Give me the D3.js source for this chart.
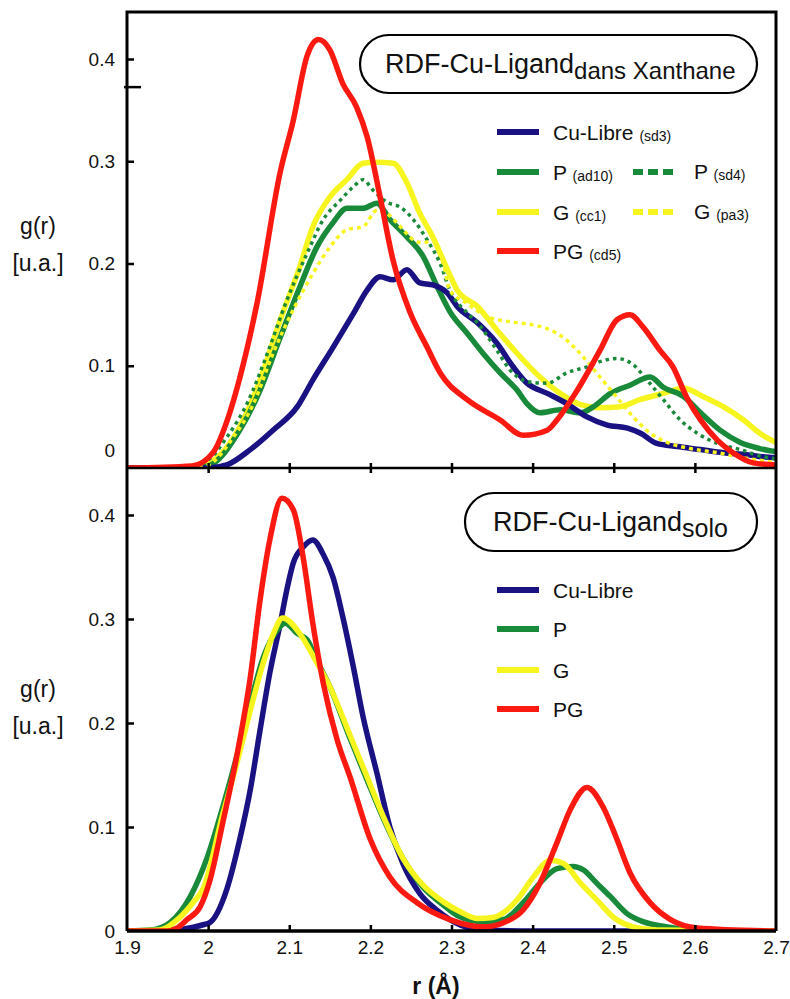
<!DOCTYPE html>
<html>
<head>
<meta charset="utf-8">
<script src="https://cdn.jsdelivr.net/npm/d3@7"></script>
<style>
  html, body { margin: 0; padding: 0; background: #fff; }
  svg { display: block; }
  text { font-family: "Liberation Sans", Arial, sans-serif; fill: #111; }
</style>
</head>
<body>
<svg id="chart" width="790" height="999"></svg>
<script>
// ---------- DATA ----------
const xTicks = [1.9, 2.0, 2.1, 2.2, 2.3, 2.4, 2.5, 2.6, 2.7];
const yTicks = [0, 0.1, 0.2, 0.3, 0.4];

// Top panel: "dans Xanthane"
const xanCuR = [1.90,2.00,2.023,2.052,2.08,2.11,2.129,2.154,2.179,2.196,2.212,2.228,2.245,2.261,2.277,2.295,2.307,2.332,2.356,2.376,2.393,2.418,2.442,2.467,2.492,2.517,2.533,2.553,2.578,2.607,2.635,2.664,2.684,2.70];
const xanCuG = [0,0,0.003,0.018,0.037,0.06,0.086,0.118,0.151,0.174,0.187,0.184,0.194,0.181,0.179,0.171,0.158,0.142,0.122,0.099,0.083,0.073,0.063,0.05,0.042,0.039,0.034,0.024,0.021,0.018,0.015,0.013,0.011,0.010];

const xanPR = [1.90,1.98,2.00,2.039,2.064,2.089,2.113,2.134,2.154,2.171,2.191,2.208,2.224,2.245,2.265,2.282,2.298,2.319,2.339,2.36,2.381,2.393,2.409,2.434,2.459,2.475,2.496,2.52,2.545,2.561,2.586,2.607,2.631,2.656,2.68,2.70];
const xanPG = [0,0,0.002,0.037,0.076,0.128,0.177,0.216,0.24,0.254,0.254,0.259,0.243,0.226,0.207,0.178,0.153,0.132,0.112,0.093,0.076,0.063,0.054,0.057,0.054,0.06,0.073,0.081,0.089,0.079,0.07,0.054,0.037,0.025,0.019,0.016];

const xanPdR = [1.90,1.97,2.0,2.023,2.048,2.073,2.097,2.122,2.142,2.163,2.179,2.191,2.203,2.22,2.237,2.253,2.27,2.286,2.298,2.319,2.332,2.356,2.372,2.397,2.418,2.442,2.467,2.483,2.504,2.524,2.541,2.561,2.582,2.603,2.628,2.656,2.684,2.70];
const xanPdG = [0,0.001,0.008,0.03,0.063,0.112,0.164,0.21,0.243,0.262,0.275,0.282,0.272,0.26,0.255,0.243,0.223,0.2,0.174,0.152,0.142,0.115,0.096,0.084,0.083,0.093,0.099,0.104,0.107,0.101,0.086,0.067,0.047,0.034,0.024,0.018,0.011,0.009];

const xanGR = [1.90,1.98,2.00,2.039,2.064,2.089,2.113,2.129,2.15,2.171,2.191,2.208,2.228,2.245,2.261,2.277,2.295,2.307,2.332,2.356,2.381,2.409,2.434,2.459,2.483,2.508,2.533,2.561,2.586,2.61,2.635,2.66,2.68,2.70];
const xanGG = [0,0,0.004,0.04,0.086,0.145,0.197,0.236,0.265,0.282,0.298,0.299,0.298,0.279,0.249,0.226,0.194,0.174,0.158,0.135,0.112,0.089,0.073,0.062,0.059,0.06,0.067,0.073,0.078,0.07,0.06,0.047,0.034,0.025];

const xanGdR = [1.90,1.98,2.0,2.031,2.056,2.08,2.105,2.129,2.15,2.171,2.191,2.208,2.22,2.237,2.253,2.265,2.277,2.29,2.298,2.319,2.344,2.372,2.40,2.422,2.442,2.462,2.483,2.504,2.524,2.545,2.566,2.594,2.628,2.66,2.693,2.70];
const xanGdG = [0,0,0.003,0.03,0.063,0.112,0.155,0.19,0.216,0.233,0.236,0.252,0.249,0.236,0.223,0.22,0.223,0.2,0.174,0.161,0.148,0.143,0.14,0.135,0.125,0.109,0.089,0.069,0.05,0.034,0.025,0.019,0.015,0.01,0.006,0.005];

const xanPGR = [1.90,1.98,2.006,2.025,2.039,2.06,2.089,2.105,2.122,2.136,2.15,2.166,2.183,2.196,2.212,2.228,2.249,2.27,2.286,2.319,2.36,2.388,2.418,2.43,2.455,2.483,2.504,2.52,2.536,2.557,2.573,2.59,2.607,2.628,2.647,2.672,2.70];
const xanPGG = [0,0.002,0.015,0.05,0.088,0.16,0.29,0.34,0.403,0.419,0.409,0.376,0.353,0.324,0.265,0.203,0.152,0.118,0.093,0.067,0.047,0.032,0.037,0.047,0.076,0.115,0.145,0.150,0.138,0.115,0.099,0.069,0.047,0.027,0.015,0.005,0.003];

// Bottom panel: "solo"
const soloCuR = [1.90,1.97,1.994,2.002,2.023,2.039,2.052,2.064,2.076,2.089,2.097,2.105,2.117,2.129,2.142,2.154,2.166,2.179,2.191,2.208,2.224,2.24,2.261,2.282,2.298,2.339,2.40,2.70];
const soloCuG = [0,0.002,0.006,0.008,0.04,0.088,0.136,0.193,0.248,0.296,0.328,0.354,0.369,0.376,0.362,0.34,0.302,0.254,0.206,0.152,0.1,0.065,0.036,0.02,0.011,0.001,0,0];

const soloPR = [1.90,1.93,1.953,1.978,1.999,2.018,2.035,2.052,2.068,2.085,2.095,2.11,2.122,2.134,2.15,2.175,2.196,2.216,2.24,2.265,2.29,2.307,2.339,2.364,2.388,2.409,2.43,2.45,2.462,2.479,2.496,2.516,2.536,2.566,2.594,2.70];
const soloPG = [0,0.001,0.008,0.033,0.071,0.119,0.167,0.219,0.263,0.289,0.296,0.286,0.28,0.26,0.235,0.185,0.145,0.108,0.07,0.042,0.025,0.015,0.009,0.011,0.027,0.046,0.06,0.062,0.059,0.046,0.033,0.017,0.009,0.004,0.001,0];

const soloGR = [1.90,1.94,1.965,1.981,1.994,2.018,2.035,2.052,2.068,2.08,2.092,2.113,2.134,2.15,2.175,2.196,2.216,2.24,2.265,2.29,2.312,2.332,2.351,2.381,2.401,2.422,2.438,2.459,2.479,2.50,2.524,2.553,2.70];
const soloGG = [0,0.001,0.013,0.027,0.041,0.112,0.16,0.212,0.258,0.285,0.301,0.286,0.258,0.235,0.188,0.148,0.11,0.07,0.044,0.028,0.018,0.012,0.013,0.03,0.052,0.068,0.065,0.046,0.03,0.013,0.004,0.001,0];

const soloPGR = [1.90,1.95,1.962,1.974,1.99,2.002,2.018,2.035,2.052,2.064,2.076,2.091,2.105,2.117,2.129,2.142,2.159,2.175,2.2,2.224,2.258,2.298,2.339,2.364,2.388,2.409,2.43,2.446,2.467,2.487,2.504,2.52,2.545,2.57,2.603,2.70];
const soloPGG = [0,0,0.003,0.011,0.023,0.048,0.104,0.167,0.244,0.318,0.376,0.416,0.405,0.36,0.296,0.238,0.184,0.148,0.088,0.052,0.027,0.011,0.004,0.008,0.02,0.046,0.085,0.116,0.138,0.119,0.088,0.056,0.027,0.011,0.003,0];

// Legend labels
const topLegendMain = ["Cu-Libre", "P", "G", "PG"];
const topLegendSub = ["(sd3)", "(ad10)", "(cc1)", "(cd5)"];
const topLegend2Main = ["P", "G"];
const topLegend2Sub = ["(sd4)", "(pa3)"];
const botLegend = ["Cu-Libre", "P", "G", "PG"];

// ---------- STYLE ----------
const NAVY = "#1a1282", GREEN = "#198a3a", YELLOW = "#f7f520", RED = "#fb1a12";

const svg = d3.select("#chart");
svg.append("rect").attr("width", 790).attr("height", 999).attr("fill", "#fff");

const L = 127, R = 776, T = 12, MID = 468, B = 931;
const x = d3.scaleLinear().domain([1.9, 2.7]).range([L, R]);
const yTop = d3.scaleLinear().domain([0, 0.4]).range([MID, 59]);
const yBot = d3.scaleLinear().domain([0, 0.4]).range([B, 515]);

const defs = svg.append("defs");
defs.append("clipPath").attr("id", "clipTop").append("rect").attr("x", L).attr("y", T).attr("width", R - L).attr("height", MID - T);
defs.append("clipPath").attr("id", "clipBot").append("rect").attr("x", L).attr("y", MID).attr("width", R - L).attr("height", B - MID);

function pts(rs, gs) { return rs.map((r, i) => [r, gs[i]]); }

function drawLine(g, y, rs, gs, color, width, dash) {
  const line = d3.line().x(d => x(d[0])).y(d => y(d[1])).curve(d3.curveMonotoneX);
  g.append("path").datum(pts(rs, gs))
    .attr("d", line).attr("fill", "none")
    .attr("stroke", color).attr("stroke-width", width)
    .attr("stroke-linejoin", "round")
    .attr("stroke-dasharray", dash || null);
}

// ---------- TOP PANEL CURVES ----------
const gTop = svg.append("g").attr("clip-path", "url(#clipTop)");
drawLine(gTop, yTop, xanGR, xanGG, YELLOW, 5.5);
drawLine(gTop, yTop, xanPR, xanPG, GREEN, 5.5);
drawLine(gTop, yTop, xanCuR, xanCuG, NAVY, 5.5);
drawLine(gTop, yTop, xanPdR, xanPdG, GREEN, 3.5, "3.5,4");
drawLine(gTop, yTop, xanGdR, xanGdG, YELLOW, 3.5, "4,4");
drawLine(gTop, yTop, xanPGR, xanPGG, RED, 5.5);

// ---------- BOTTOM PANEL CURVES ----------
const gBot = svg.append("g").attr("clip-path", "url(#clipBot)");
drawLine(gBot, yBot, soloCuR, soloCuG, NAVY, 5.5);
drawLine(gBot, yBot, soloPR, soloPG, GREEN, 5.5);
drawLine(gBot, yBot, soloGR, soloGG, YELLOW, 5.5);
drawLine(gBot, yBot, soloPGR, soloPGG, RED, 5.5);

// ---------- FRAME ----------
const frame = svg.append("g").attr("stroke", "#000").attr("fill", "none");
frame.append("path").attr("d", `M${L},${B} L${L},${T} L${R},${T} L${R},${B}`).attr("stroke-width", 3);
frame.append("line").attr("x1", L).attr("x2", R).attr("y1", MID).attr("y2", MID).attr("stroke-width", 2.5);
frame.append("line").attr("x1", L).attr("x2", R).attr("y1", B).attr("y2", B).attr("stroke-width", 3.5);

// ---------- AXES ----------
function styleAxis(sel) {
  sel.select(".domain").remove();
  sel.selectAll(".tick line").attr("stroke", "#000").attr("stroke-width", 2.5);
  sel.selectAll(".tick text").attr("font-family", "Liberation Sans, Arial, sans-serif").attr("font-size", 19).attr("fill", "#111");
}

// top y axis
const axTop = svg.append("g").attr("transform", `translate(${L},0)`)
  .call(d3.axisLeft(yTop).tickValues(yTicks).tickSizeInner(-7).tickSizeOuter(0).tickPadding(12)
    .tickFormat(d => d === 0 ? "0" : d3.format(".1f")(d)));
styleAxis(axTop);
axTop.selectAll(".tick").filter(d => d === 0).select("line").remove();
axTop.selectAll(".tick").filter(d => d === 0).select("text").attr("y", -18);
// stray long tick in the top panel
svg.append("line").attr("x1", L - 3).attr("x2", L + 14)
  .attr("y1", yTop(0.3725)).attr("y2", yTop(0.3725)).attr("stroke", "#000").attr("stroke-width", 2.5);

// bottom y axis
const axBot = svg.append("g").attr("transform", `translate(${L},0)`)
  .call(d3.axisLeft(yBot).tickValues(yTicks).tickSizeInner(-7).tickSizeOuter(0).tickPadding(12)
    .tickFormat(d => d === 0 ? "0" : d3.format(".1f")(d)));
styleAxis(axBot);
axBot.selectAll(".tick").filter(d => d === 0).select("line").remove();

// middle x axis (ticks only, crossing)
const axMid = svg.append("g").attr("transform", `translate(0,${MID})`)
  .call(d3.axisBottom(x).tickValues(xTicks.slice(1, -1)).tickSize(5).tickFormat(""));
styleAxis(axMid);
axMid.selectAll(".tick line").attr("y1", -5).attr("y2", 5);

// bottom x axis
const axX = svg.append("g").attr("transform", `translate(0,${B})`)
  .call(d3.axisBottom(x).tickValues(xTicks).tickSizeInner(-6).tickSizeOuter(0).tickPadding(10)
    .tickFormat(d => Math.abs(d - 2) < 1e-9 ? "2" : d3.format(".1f")(d)));
styleAxis(axX);
axX.selectAll(".tick").filter(d => d === 1.9 || d === 2.7).select("line").remove();

// axis titles
function yTitle(cy) {
  svg.append("text").attr("x", 38).attr("y", cy).attr("text-anchor", "middle").attr("font-size", 23).text("g(r)");
  svg.append("text").attr("x", 38).attr("y", cy + 37).attr("text-anchor", "middle").attr("font-size", 23).text("[u.a.]");
}
yTitle(234);
yTitle(697);

svg.append("text").attr("x", 436).attr("y", 994).attr("text-anchor", "middle")
  .attr("font-family", "'Liberation Sans Narrow', 'Liberation Sans', Arial, sans-serif")
  .attr("font-weight", "bold").attr("font-size", 23).text("r (Å)");

// ---------- TITLE BOXES ----------
function titleBox(x0, y0, w, h, tx, ty, main, sub, subSize) {
  svg.append("rect").attr("x", x0).attr("y", y0).attr("width", w).attr("height", h)
    .attr("rx", h / 2).attr("ry", h / 2).attr("fill", "#fff").attr("stroke", "#000").attr("stroke-width", 2.2);
  const t = svg.append("text").attr("x", tx).attr("y", ty).attr("font-size", 27);
  t.append("tspan").text(main);
  t.append("tspan").attr("font-size", subSize).attr("dy", 6).text(sub);
}
titleBox(360, 35, 397, 58, 385, 73, "RDF-Cu-Ligand", "dans Xanthane", 24);
titleBox(465, 493, 292, 58, 493, 531, "RDF-Cu-Ligand", "solo", 25);

// ---------- LEGENDS ----------
const topColors = [NAVY, GREEN, YELLOW, RED];
const topRows = [132, 172, 212, 251];
topRows.forEach((cy, i) => {
  svg.append("line").attr("x1", 497).attr("x2", 539).attr("y1", cy).attr("y2", cy)
    .attr("stroke", topColors[i]).attr("stroke-width", 6);
  const t = svg.append("text").attr("x", 553).attr("y", cy + 8).attr("font-size", 21);
  t.append("tspan").text(topLegendMain[i] + " ");
  t.append("tspan").attr("font-size", 14).attr("dy", 1).text(topLegendSub[i]);
});
[GREEN, YELLOW].forEach((c, i) => {
  const cy = topRows[i + 1];
  svg.append("line").attr("x1", 633).attr("x2", 676).attr("y1", cy).attr("y2", cy)
    .attr("stroke", c).attr("stroke-width", 6).attr("stroke-dasharray", "10,5");
  const t = svg.append("text").attr("x", 694).attr("y", cy + 7).attr("font-size", 21);
  t.append("tspan").text(topLegend2Main[i] + " ");
  t.append("tspan").attr("font-size", 14).attr("dy", 1).text(topLegend2Sub[i]);
});

const botRows = [590, 629, 670, 709];
botRows.forEach((cy, i) => {
  svg.append("line").attr("x1", 497).attr("x2", 539).attr("y1", cy).attr("y2", cy)
    .attr("stroke", topColors[i]).attr("stroke-width", 6);
  svg.append("text").attr("x", 553).attr("y", cy + 8).attr("font-size", 21).text(botLegend[i]);
});
</script>
</body>
</html>
